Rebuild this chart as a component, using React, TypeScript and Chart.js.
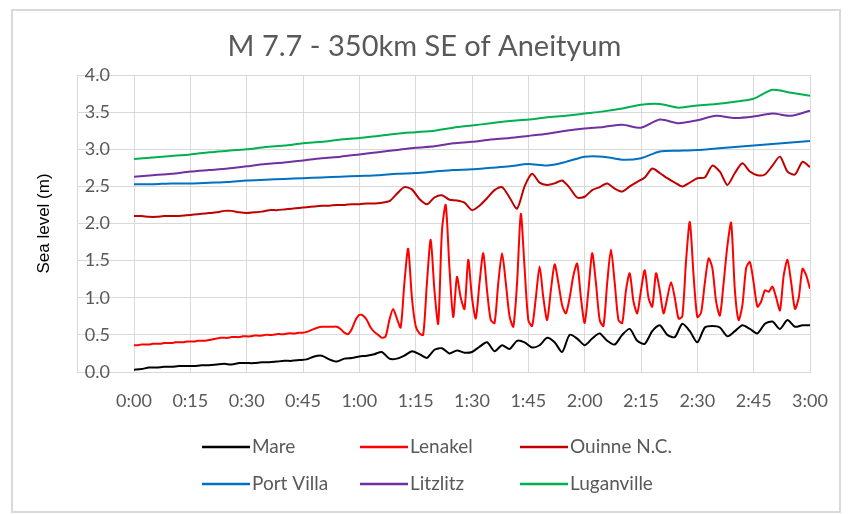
import React, { useEffect, useRef } from "react";
import { Chart, registerables } from "chart.js";

Chart.register(...registerables);

const TITLE = "M 7.7 - 350km SE of Aneityum";
const Y_TITLE = "Sea level (m)";

const X_TICK_MINUTES = [0, 15, 30, 45, 60, 75, 90, 105, 120, 135, 150, 165, 180];
const X_TICK_LABELS = ["0:00", "0:15", "0:30", "0:45", "1:00", "1:15", "1:30", "1:45", "2:00", "2:15", "2:30", "2:45", "3:00"];
const Y_TICKS = [0, 0.5, 1, 1.5, 2, 2.5, 3, 3.5, 4];

const SERIES_NAMES = ["Mare", "Lenakel", "Ouinne N.C.", "Port Villa", "Litzlitz", "Luganville"];
const SERIES_COLORS = ["#000000", "#FF0000", "#C00000", "#0070C0", "#7030A0", "#00B050"];

// minutes between samples for each series
const MARE_STEP = 2;
const MARE = [
  0.03, 0.04, 0.06, 0.06, 0.07, 0.07, 0.08, 0.08, 0.08, 0.09,
  0.09, 0.10, 0.11, 0.10, 0.12, 0.12, 0.12, 0.13, 0.13, 0.14,
  0.15, 0.15, 0.16, 0.17, 0.21, 0.22, 0.17, 0.14, 0.18, 0.19,
  0.21, 0.22, 0.24, 0.27, 0.18, 0.18, 0.22, 0.28, 0.24, 0.19,
  0.30, 0.32, 0.25, 0.29, 0.26, 0.27, 0.34, 0.40, 0.28, 0.36,
  0.31, 0.42, 0.40, 0.33, 0.36, 0.46, 0.40, 0.27, 0.50, 0.45,
  0.36, 0.45, 0.52, 0.42, 0.37, 0.50, 0.58, 0.42, 0.38, 0.55,
  0.63, 0.50, 0.47, 0.65, 0.55, 0.40, 0.60, 0.62, 0.60, 0.48,
  0.55, 0.63, 0.58, 0.52, 0.65, 0.68, 0.58, 0.70, 0.61, 0.63,
  0.63,
];

const LENAKEL_STEP = 1;
const LENAKEL = [
  0.36, 0.36, 0.37, 0.37, 0.37, 0.38, 0.38, 0.38, 0.39, 0.39,
  0.39, 0.40, 0.40, 0.40, 0.41, 0.41, 0.41, 0.42, 0.42, 0.42,
  0.43, 0.44, 0.45, 0.46, 0.46, 0.46, 0.47, 0.47, 0.47, 0.48,
  0.48, 0.48, 0.49, 0.49, 0.49, 0.50, 0.50, 0.50, 0.51, 0.51,
  0.51, 0.52, 0.52, 0.52, 0.53, 0.53, 0.54, 0.56, 0.58, 0.60,
  0.61, 0.61, 0.61, 0.61, 0.61, 0.58, 0.53, 0.51, 0.58, 0.70,
  0.77, 0.76, 0.70, 0.60, 0.54, 0.50, 0.46, 0.48, 0.70, 0.85,
  0.72, 0.60, 1.20, 1.66, 1.00, 0.62, 0.52, 0.50, 1.20, 1.78,
  1.10, 0.65, 1.90, 2.25, 1.40, 0.74, 1.28, 1.00, 0.85, 1.51,
  1.00, 0.72, 1.20, 1.60, 1.10, 0.70, 0.66, 1.20, 1.60, 1.20,
  0.75, 0.61, 1.20, 2.13, 1.40, 0.70, 0.62, 1.00, 1.42, 1.00,
  0.70, 1.10, 1.45, 1.20, 0.90, 0.79, 1.00, 1.30, 1.46, 1.00,
  0.66, 1.10, 1.60, 1.20, 0.70, 0.62, 1.20, 1.65, 1.20, 0.70,
  0.66, 1.10, 1.33, 0.95, 0.79, 1.10, 1.37, 1.00, 0.88, 1.33,
  1.10, 0.79, 1.00, 1.21, 1.00, 0.72, 0.75, 1.50, 2.02, 1.30,
  0.74, 0.80, 1.20, 1.53, 1.40, 0.95, 0.76, 1.20, 1.70, 2.01,
  1.10, 0.70, 0.90, 1.40, 1.48, 1.20, 0.88, 0.95, 1.10, 1.08,
  1.15, 1.00, 0.83, 1.30, 1.51, 1.20, 0.85, 1.00, 1.39, 1.30,
  1.12,
];

const OUINNE_STEP = 2;
const OUINNE = [
  2.10, 2.10, 2.09, 2.09, 2.10, 2.10, 2.10, 2.11, 2.12, 2.13,
  2.14, 2.15, 2.17, 2.17, 2.15, 2.14, 2.15, 2.16, 2.18, 2.18,
  2.19, 2.20, 2.21, 2.22, 2.23, 2.24, 2.24, 2.25, 2.25, 2.26,
  2.26, 2.27, 2.27, 2.28, 2.30, 2.40, 2.49, 2.46, 2.33, 2.26,
  2.35, 2.38, 2.32, 2.31, 2.28, 2.18, 2.24, 2.34, 2.45, 2.49,
  2.35, 2.20, 2.50, 2.67, 2.55, 2.52, 2.54, 2.58, 2.48, 2.35,
  2.36, 2.45, 2.49, 2.54, 2.47, 2.43, 2.50, 2.56, 2.62, 2.74,
  2.68, 2.61, 2.55, 2.50, 2.55, 2.61, 2.62, 2.78, 2.70, 2.52,
  2.68, 2.81, 2.70, 2.65, 2.66, 2.78, 2.90, 2.70, 2.66, 2.83,
  2.76,
];

const PORT_VILLA_STEP = 5;
const PORT_VILLA = [
  2.53, 2.53, 2.54, 2.54, 2.55, 2.56, 2.58, 2.59, 2.60, 2.61,
  2.62, 2.63, 2.64, 2.65, 2.67, 2.68, 2.70, 2.72, 2.73, 2.75,
  2.77, 2.80, 2.78, 2.83, 2.90, 2.90, 2.86, 2.88, 2.97, 2.98,
  2.99, 3.01, 3.03, 3.05, 3.07, 3.09, 3.11,
];

const LITZLITZ_STEP = 5;
const LITZLITZ = [
  2.63, 2.65, 2.67, 2.70, 2.72, 2.74, 2.77, 2.80, 2.82, 2.85,
  2.88, 2.90, 2.93, 2.96, 2.99, 3.02, 3.04, 3.08, 3.10, 3.13,
  3.15, 3.18, 3.21, 3.25, 3.28, 3.30, 3.33, 3.29, 3.40, 3.35,
  3.39, 3.45, 3.42, 3.44, 3.48, 3.45, 3.52,
];

const LUGANVILLE_STEP = 5;
const LUGANVILLE = [
  2.87, 2.89, 2.91, 2.93, 2.96, 2.98, 3.00, 3.03, 3.05, 3.08,
  3.10, 3.13, 3.15, 3.18, 3.21, 3.23, 3.25, 3.29, 3.32, 3.35,
  3.38, 3.40, 3.43, 3.45, 3.48, 3.51, 3.55, 3.60, 3.61, 3.56,
  3.59, 3.61, 3.64, 3.68, 3.80, 3.76, 3.72,
];

const SERIES_VALUES = [MARE, LENAKEL, OUINNE, PORT_VILLA, LITZLITZ, LUGANVILLE];
const SERIES_STEPS = [MARE_STEP, LENAKEL_STEP, OUINNE_STEP, PORT_VILLA_STEP, LITZLITZ_STEP, LUGANVILLE_STEP];

const GRID = "#D9D9D9";
const TEXT = "#595959";
const FONT = "Lato, 'Open Sans', sans-serif";

const framePlugin = {
  id: "frame",
  beforeDraw(chart: any) {
    const ctx = chart.ctx;
    ctx.save();
    ctx.fillStyle = "#ffffff";
    ctx.fillRect(0, 0, chart.width, chart.height);
    ctx.strokeStyle = "#D9D9D9";
    ctx.lineWidth = 2;
    ctx.strokeRect(12, 10, 828, 502);
    // title centred on the whole frame
    ctx.fillStyle = TEXT;
    ctx.font = `29px ${FONT}`;
    ctx.textAlign = "center";
    ctx.textBaseline = "middle";
    ctx.fillText(TITLE, chart.width / 2, 47);
    ctx.restore();
  },
  afterDraw(chart: any) {
    // vertical line closing the extended y gridlines
    const y = chart.scales.y;
    const ctx = chart.ctx;
    ctx.save();
    ctx.strokeStyle = GRID;
    ctx.lineWidth = 1;
    const x = Math.round(y.right - 57) + 0.5;
    ctx.beginPath();
    ctx.moveTo(x, y.getPixelForValue(4));
    ctx.lineTo(x, y.getPixelForValue(0));
    ctx.stroke();

    // legend in a fixed 3-column grid
    const cols = [202, 360, 520];
    const rows = [447, 484];
    ctx.font = `19px ${FONT}`;
    ctx.textBaseline = "middle";
    ctx.textAlign = "left";
    chart.data.datasets.forEach((ds: any, i: number) => {
      const cx = cols[i % 3];
      const cy = rows[Math.floor(i / 3)];
      ctx.strokeStyle = ds.borderColor;
      ctx.lineWidth = 2.5;
      ctx.beginPath();
      ctx.moveTo(cx, cy);
      ctx.lineTo(cx + 48, cy);
      ctx.stroke();
      ctx.fillStyle = TEXT;
      ctx.fillText(ds.label, cx + 50, cy);
    });
    ctx.restore();
  },
};

export default function App() {
  const ref = useRef<HTMLCanvasElement | null>(null);

  useEffect(() => {
    if (!ref.current) return;
    const datasets = SERIES_NAMES.map((name, i) => ({
      label: name,
      data: SERIES_VALUES[i].map((v, k) => ({ x: k * SERIES_STEPS[i], y: v })),
      borderColor: SERIES_COLORS[i],
      backgroundColor: SERIES_COLORS[i],
      borderWidth: 2,
      pointRadius: 0,
      tension: 0.25,
      fill: false,
    }));

    const chart = new Chart(ref.current, {
      type: "line",
      data: { datasets },
      plugins: [framePlugin],
      options: {
        animation: false,
        responsive: true,
        maintainAspectRatio: false,
        layout: { padding: { left: 0, right: 39, top: 75, bottom: 0 } },
        plugins: {
          legend: { display: false },
          tooltip: { enabled: false },
          title: { display: false },
        },
        scales: {
          x: {
            type: "linear",
            min: 0,
            max: 180,
            afterBuildTicks: (scale: any) => {
              scale.ticks = X_TICK_MINUTES.map((v) => ({ value: v }));
            },
            afterFit: (scale: any) => {
              scale.height = 142;
            },
            grid: { color: GRID, drawTicks: false },
            border: { color: GRID },
            ticks: {
              color: TEXT,
              font: { family: FONT, size: 18 },
              padding: 18,
              maxRotation: 0,
              autoSkip: false,
              callback: (v: any) => X_TICK_LABELS[X_TICK_MINUTES.indexOf(Number(v))] ?? "",
            },
          },
          y: {
            type: "linear",
            min: 0,
            max: 4,
            afterBuildTicks: (scale: any) => {
              scale.ticks = Y_TICKS.map((v) => ({ value: v }));
            },
            afterFit: (scale: any) => {
              scale.width = 134;
            },
            grid: { color: GRID, drawTicks: true, tickLength: 57 },
            border: { color: GRID },
            ticks: {
              color: TEXT,
              font: { family: FONT, size: 18 },
              padding: -33,
              callback: (v: any) => Number(v).toFixed(1),
            },
            title: {
              display: true,
              text: Y_TITLE,
              color: "#000000",
              font: { family: "'Liberation Sans', Arial, sans-serif", size: 17 },
              padding: { top: 34, bottom: 0 },
            },
          },
        },
      },
    });
    return () => chart.destroy();
  }, []);

  return (
    <div style={{ position: "fixed", left: 0, top: 0, width: 849, height: 514, background: "#fff" }}>
      <canvas ref={ref} />
    </div>
  );
}
